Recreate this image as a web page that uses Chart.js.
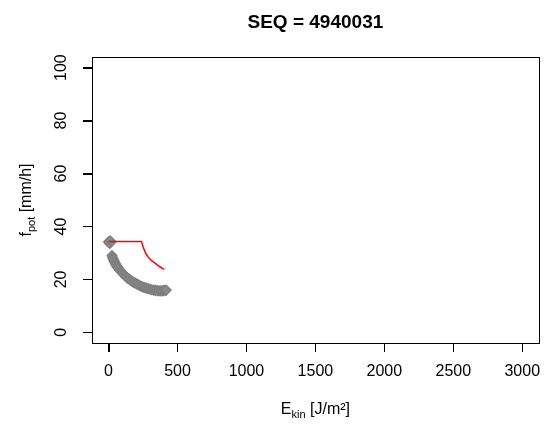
<!DOCTYPE html>
<html>
<head>
<meta charset="utf-8">
<script src="https://cdn.jsdelivr.net/npm/chart.js@4"></script>
<style>
body { margin: 0; background: #fff; }
#box { width: 545px; height: 424px; }
</style>
</head>
<body>
<div id="box"><canvas id="seqPlot" width="545" height="424"></canvas></div>
<script>
var titulo = "SEQ = 4940031"
var xTicks = [0, 500, 1000, 1500, 2000, 2500, 3000]
var yTicks = [0, 20, 40, 60, 80, 100]

// pontos cinza (observados)
var pontosX = [0, 5, 10, 15, 8, 12,
    25, 30, 35, 40, 45, 50, 55, 60, 65, 70, 78, 85, 92, 100, 108, 116, 125, 134, 143, 152,
    162, 172, 182, 193, 204, 215, 226, 238, 250, 262, 274, 287, 300, 313, 326, 339, 352,
    365, 378, 390, 400, 410, 418]
var pontosY = [34.2, 34.0, 34.3, 34.0, 33.6, 34.6,
    29.0, 28.2, 27.6, 27.0, 26.4, 25.9, 25.5, 25.0, 24.7, 24.3, 23.7, 23.3, 22.9, 22.4, 22.0, 21.6, 21.1, 20.7, 20.3, 20.0,
    19.6, 19.2, 18.9, 18.6, 18.3, 18.0, 17.7, 17.4, 17.1, 16.9, 16.7, 16.5, 16.3, 16.1, 16.0, 15.9, 15.8,
    15.7, 15.7, 15.7, 15.8, 15.9, 16.0]

// linha vermelha
var linhaX = [0, 60, 120, 180, 240, 248, 260, 272, 285, 296, 310, 325, 344, 360, 375, 390, 404]
var linhaY = [34.3, 34.3, 34.3, 34.3, 34.3, 32.6, 31.0, 29.6, 28.6, 27.9, 27.2, 26.6, 25.9, 25.2, 24.7, 24.2, 23.8]

function junta(xs, ys){
    var out = []
    xs.forEach((v, i)=>{
        out.push({x: v, y: ys[i]})
    })
    return out
}

var fonte = "'Liberation Sans', Arial, sans-serif"

// texto com subscrito
function textoSub(ctx, partes, cx, cy){
    var w = 0
    partes.forEach((p)=>{
        ctx.font = p[1] ? "11px " + fonte : "16px " + fonte
        w += ctx.measureText(p[0]).width
    })
    var x = cx - w / 2
    partes.forEach((p)=>{
        ctx.font = p[1] ? "11px " + fonte : "16px " + fonte
        ctx.fillText(p[0], x, p[1] ? cy + 5 : cy)
        x += ctx.measureText(p[0]).width
    })
}

var moldura = {
    id: "moldura",
    afterDraw(chart){
        var ctx = chart.ctx
        var a = chart.chartArea
        var sx = chart.scales.x
        var sy = chart.scales.y
        ctx.save()
        ctx.strokeStyle = "#000"
        ctx.lineWidth = 1
        ctx.strokeRect(Math.round(a.left) + 0.5, Math.round(a.top) + 0.5, Math.round(a.right - a.left), Math.round(a.bottom - a.top))

        // marcas dos eixos
        ctx.beginPath()
        xTicks.forEach((v)=>{
            var px = Math.round(sx.getPixelForValue(v)) + 0.5
            ctx.moveTo(px, Math.round(a.bottom))
            ctx.lineTo(px, Math.round(a.bottom) + 9)
        })
        yTicks.forEach((v)=>{
            var py = Math.round(sy.getPixelForValue(v)) + 0.5
            ctx.moveTo(Math.round(a.left), py)
            ctx.lineTo(Math.round(a.left) - 9, py)
        })
        ctx.stroke()

        ctx.fillStyle = "#000"
        ctx.textBaseline = "middle"
        ctx.textAlign = "center"
        ctx.font = "bold 19px " + fonte
        ctx.fillText(titulo, (a.left + a.right) / 2, 23)

        ctx.textAlign = "left"
        textoSub(ctx, [["E", false], ["kin", true], [" [J/m²]", false]], (a.left + a.right) / 2, 410)

        ctx.translate(27, (a.top + a.bottom) / 2)
        ctx.rotate(-Math.PI / 2)
        textoSub(ctx, [["f", false], ["pot", true], [" [mm/h]", false]], 0, 0)
        ctx.restore()
    }
}

var rp = document.getElementById("seqPlot")

new Chart(rp, {
    type: "scatter",
    data: {
        datasets: [{
            data: junta(linhaX, linhaY),
            showLine: true,
            borderColor: "#ff0000",
            borderWidth: 1.5,
            pointRadius: 0,
            fill: false
        }, {
            data: junta(pontosX, pontosY),
            pointStyle: "rectRot",
            pointRadius: 5,
            borderColor: "#7f7f7f",
            backgroundColor: "#8a8a8a",
            borderWidth: 1.2
        }]
    },
    options: {
        responsive: false,
        animation: false,
        layout: { padding: { top: 57, right: 5, left: 0, bottom: 0 } },
        plugins: {
            legend: { display: false },
            tooltip: { enabled: false }
        },
        scales: {
            x: {
                type: "linear",
                min: -120,
                max: 3120,
                afterBuildTicks: (s)=>{ s.ticks = xTicks.map((v)=>({value: v})) },
                afterFit: (s)=>{ s.height = 81; s.paddingLeft = 0; s.paddingRight = 0 },
                grid: { drawOnChartArea: false, drawTicks: true, tickLength: 9, color: "#000", lineWidth: 1 },
                border: { display: false },
                ticks: { color: "#000", padding: 10, maxRotation: 0, font: { size: 16, family: fonte },
                    callback: (v)=>String(v) }
            },
            y: {
                type: "linear",
                min: -4,
                max: 104,
                afterBuildTicks: (s)=>{ s.ticks = yTicks.map((v)=>({value: v})) },
                afterFit: (s)=>{ s.width = 92; s.paddingTop = 0; s.paddingBottom = 0 },
                grid: { drawOnChartArea: false, drawTicks: true, tickLength: 9, color: "#000", lineWidth: 1 },
                border: { display: false },
                ticks: { color: "#000", padding: 8, minRotation: 90, maxRotation: 90, crossAlign: "center", font: { size: 16, family: fonte },
                    callback: (v)=>String(v) }
            }
        }
    },
    plugins: [moldura]
})
</script>
</body>
</html>
